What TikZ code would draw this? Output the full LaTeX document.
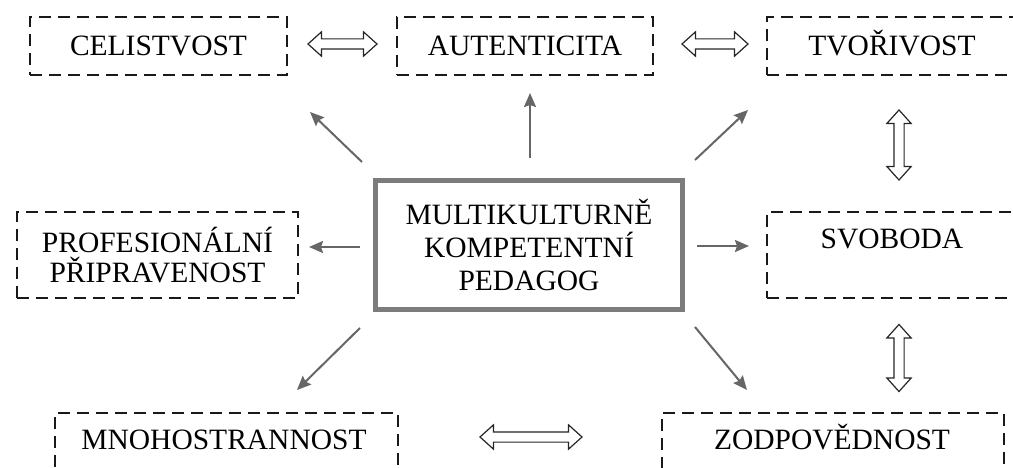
\documentclass[tikz,border=0pt]{standalone}
\usepackage{fontspec}
\setmainfont{Liberation Serif}
\usetikzlibrary{shapes.arrows,arrows.meta}
\definecolor{arrgray}{HTML}{666666}
\definecolor{boxgray}{HTML}{7C7C7C}
\begin{document}
\begin{tikzpicture}[x=1pt,y=-1pt,
  every node/.style={font=\fontsize{29.5}{31}\selectfont},
  dbox/.style={draw=black!90, line width=2pt, dash pattern=on 12pt off 7pt, inner sep=0pt},
  oneline/.style={text height=20pt, text depth=0pt},
  mainbox/.style={draw=boxgray, line width=5pt, inner sep=0pt, align=center},
  conn/.style={draw=arrgray, line width=2pt, -{Stealth[length=14pt,width=12pt,inset=2pt]}},
  dblarr/.style={double arrow, draw=black!85, line width=1.2pt, fill=white, inner sep=4.5pt,
    double arrow head extend=7pt, double arrow tip angle=84, font=\tiny},
  lbl/.style={inner sep=0pt, text height=20pt, text depth=0pt}
]
\useasboundingbox (0,0) rectangle (1013,468);
\clip (0,0) rectangle (1013,468);
\fill[white] (0,0) rectangle (1013,468);

% boxes
\node[dbox, oneline, minimum width=257pt, minimum height=58pt] (cel) at (158.5,46) {CELISTVOST};
\node[dbox, oneline, minimum width=256pt, minimum height=58pt] (aut) at (525,46) {AUTENTICITA};
\node[dbox, oneline, minimum width=250pt, minimum height=58pt] (tvo) at (892,46) {TVOŘIVOST};
\node[dbox, minimum width=281pt, minimum height=86pt, align=center, font=\fontsize{29.5}{30}\selectfont] (pro) at (157.5,255) {PROFESIONÁLNÍ\\PŘIPRAVENOST};
\node[dbox, minimum width=250pt, minimum height=86pt] (svo) at (892,255) {};
\node[lbl] (svot) at (892,238) {SVOBODA};
\node[dbox, minimum width=343pt, minimum height=70pt] (mno) at (226.5,448) {};
\node[lbl] (mnot) at (224,439) {MNOHOSTRANNOST};
\node[dbox, minimum width=342pt, minimum height=70pt] (zod) at (833,448) {};
\node[lbl] (zodt) at (832,439) {ZODPOVĚDNOST};

% central box
\node[mainbox, minimum width=307pt, minimum height=129pt, font=\fontsize{29.5}{33}\selectfont] (mkp) at (529,245) {MULTIKULTURNĚ\\KOMPETENTNÍ\\PEDAGOG};

% gray arrows
\coordinate (s1) at (362,162); \coordinate (e1) at (310,112);
\coordinate (s2) at (530,158); \coordinate (e2) at (530,93);
\coordinate (s3) at (695,160); \coordinate (e3) at (748,110);
\coordinate (s4) at (360,247); \coordinate (e4) at (309,247);
\coordinate (s5) at (697,246); \coordinate (e5) at (749,246);
\coordinate (s6) at (360,328); \coordinate (e6) at (297,390);
\coordinate (s7) at (695,327); \coordinate (e7) at (747,390);
\draw[conn] (s1) -- (e1);
\draw[conn] (s2) -- (e2);
\draw[conn] (s3) -- (e3);
\draw[conn] (s4) -- (e4);
\draw[conn] (s5) -- (e5);
\draw[conn] (s6) -- (e6);
\draw[conn] (s7) -- (e7);

% hollow double arrows
\node[dblarr, minimum height=69pt] (d1) at (342.5,44) {};
\node[dblarr, minimum height=66pt] (d2) at (715,44) {};
\node[dblarr, minimum height=70pt, rotate=90] (d3) at (899,145) {};
\node[dblarr, minimum height=67pt, rotate=90] (d4) at (899,358) {};
\node[dblarr, minimum height=102pt] (d5) at (531,437) {};
\end{tikzpicture}
\end{document}
